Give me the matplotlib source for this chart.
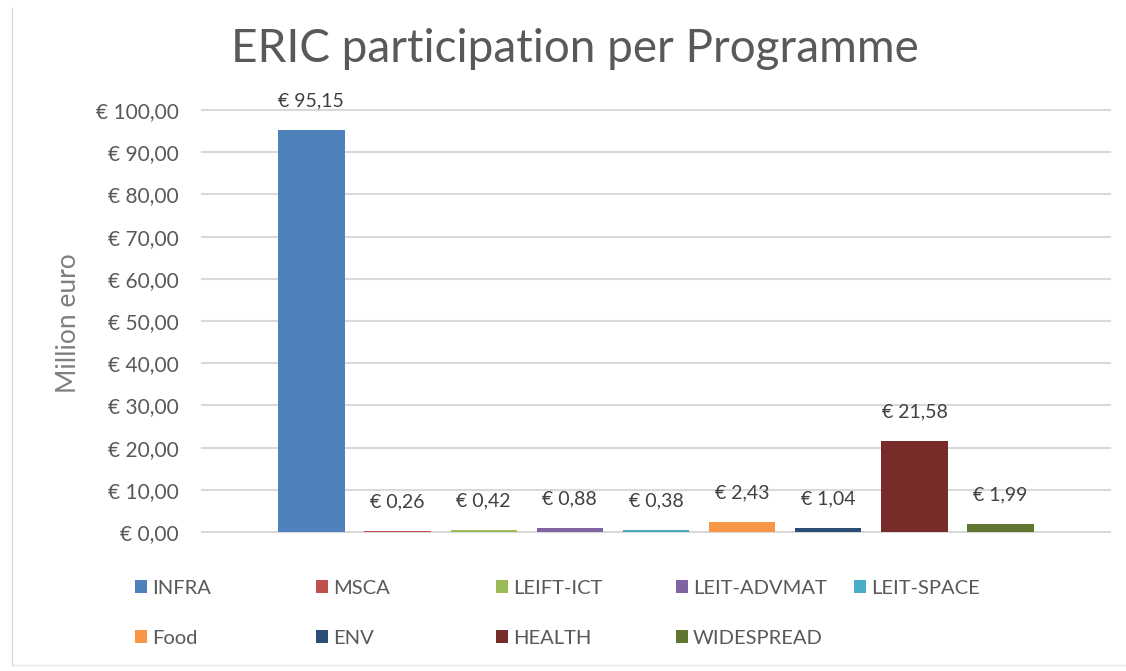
import matplotlib
matplotlib.use('Agg')
import matplotlib.pyplot as plt
from matplotlib.patches import Patch
from matplotlib.lines import Line2D

# ---- data ----
programmes = ['INFRA', 'MSCA', 'LEIFT-ICT', 'LEIT-ADVMAT', 'LEIT-SPACE',
              'Food', 'ENV', 'HEALTH', 'WIDESPREAD']
values = [95.15, 0.26, 0.42, 0.88, 0.38, 2.43, 1.04, 21.58, 1.99]
colors = ['#4F81BD', '#C0504D', '#9BBB59', '#8064A2', '#4BACC6',
          '#F79646', '#2C4D75', '#772C2A', '#5F7530']
yticks = [0, 10, 20, 30, 40, 50, 60, 70, 80, 90, 100]
title = 'ERIC participation per Programme'
ylabel = 'Million euro'


def euro(v):
    return ('€ %.2f' % v).replace('.', ',')


W, H = 1126, 671
plt.rcParams['font.family'] = ['Lato', 'DejaVu Sans']
fig = plt.figure(figsize=(W / 100, H / 100), dpi=100)
fig.patch.set_facecolor('white')

ax = fig.add_axes([202 / W, 1 - 532 / H, (1110 - 202) / W, (532 - 110) / H])
xs = list(range(len(values)))
ax.bar(xs, values, width=0.77, color=colors, zorder=3)
ax.set_xlim(-1.27, len(values) - 1 + 1.27)
ax.set_ylim(0, 100)
ax.set_yticks(yticks)
ax.set_yticklabels([euro(v) for v in yticks])
ax.tick_params(axis='y', length=0, pad=17, labelsize=15, labelcolor='#595959')
ax.set_xticks([])
for s in ax.spines.values():
    s.set_visible(False)
ax.grid(axis='y', color='#D9D9D9', lw=1.5, zorder=0)
ax.set_axisbelow(True)
for gl in ax.get_ygridlines():
    gl.set_clip_on(False)

for xi, v in zip(xs, values):
    ax.annotate(euro(v), (xi, v), xytext=(0, 21), textcoords='offset points',
                ha='center', va='center', fontsize=14, color='#404040')

fig.text(575 / W, 1 - 49 / H, title, ha='center', va='center',
         fontsize=33, color='#595959')
fig.text(68 / W, 1 - 323 / H, ylabel, ha='center', va='center', rotation=90,
         fontsize=19, color='#7F7F7F')

# legend, 5 columns x 2 rows, row-major
col_x = [141, 322, 502, 682, 860]
row_y = [588, 638]
for i, (lab, c) in enumerate(zip(programmes, colors)):
    r, cidx = divmod(i, 5)
    fig.legend(handles=[Patch(facecolor=c, edgecolor='none', label=lab)],
               loc='center left',
               bbox_to_anchor=((col_x[cidx] - 6) / W, 1 - row_y[r] / H),
               frameon=False, borderpad=0, borderaxespad=0,
               handlelength=0.6, handleheight=0.6, handletextpad=0.25,
               fontsize=14.5, labelcolor='#595959')

# faint chart frame
fig.add_artist(Line2D([12 / W, 12 / W], [1 - 8 / H, 1 - 665 / H],
                      transform=fig.transFigure, color='#D9D9D9', lw=1))
fig.add_artist(Line2D([12 / W, 1.0], [1 - 665 / H, 1 - 665 / H],
                      transform=fig.transFigure, color='#E6E6E6', lw=1))

fig.savefig('out.png', dpi=100)
